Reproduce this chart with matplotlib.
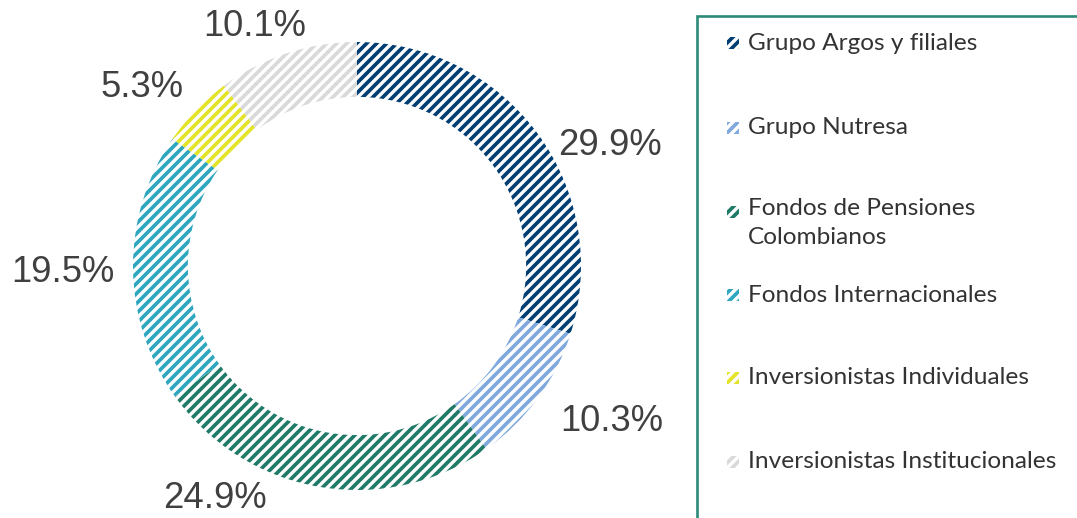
import matplotlib
matplotlib.use("Agg")
import matplotlib.pyplot as plt
from matplotlib.patches import Rectangle

categories = ["Grupo Argos y filiales", "Grupo Nutresa", "Fondos de Pensiones\nColombianos",
              "Fondos Internacionales", "Inversionistas Individuales", "Inversionistas Institucionales"]
values = [29.9, 10.3, 24.9, 19.5, 5.3, 10.1]
colors = ["#003D73", "#7FA8DC", "#1F7A67", "#2EA6BE", "#E3E327", "#D9D9D9"]

# label positions (layout) in axes data units
label_pos = [(1.129, 0.540), (1.138, -0.696), (-0.634, -1.036),
             (-1.3125, -0.027), (-0.960, 0.795), (-0.455, 1.067)]

DPI = 120
W, H = 1077, 518
plt.rcParams['hatch.linewidth'] = 2.2
fig = plt.figure(figsize=(W / DPI, H / DPI), dpi=DPI)

cx, cy, R = 357, 266, 224
ax = fig.add_axes([(cx - R) / W, (H - cy - R) / H, 2 * R / W, 2 * R / H])
wedges, texts, autotexts = ax.pie(values, startangle=90, counterclock=False, radius=1,
                                  colors=["white"] * len(values),
                                  autopct=lambda p: f"{p:.1f}%",
                                  wedgeprops=dict(width=0.245, linewidth=0))
for w, c in zip(wedges, colors):
    w.set_edgecolor(c)
    w.set_linewidth(0)
    w.set_hatch("////")
for t, v, pos in zip(autotexts, values, label_pos):
    t.set_text(f"{v:.1f}%")
    t.set_position(pos)
    t.set_fontsize(21.8)
    t.set_family("Liberation Sans")
    t.set_color("#404040")
    t.set_ha("center")
    t.set_va("center")
    t.set_clip_on(False)
ax.set_xlim(-1, 1)
ax.set_ylim(-1, 1)
ax.set_aspect("equal")
ax.axis("off")

# legend box
lx, ly = 697, 16
fig.patches.append(Rectangle((lx / W, -0.1), 1.2, (H - ly) / H + 0.1, transform=fig.transFigure,
                             facecolor="none", edgecolor="#2E8B7A", linewidth=1.6))
entry_y = [43, 128, 212, 295, 378, 462]
for cat, c, yy in zip(categories, colors, entry_y):
    s = 12
    fig.patches.append(Rectangle(((727) / W, (H - yy - s / 2) / H), s / W, s / H,
                                 transform=fig.transFigure, facecolor="white",
                                 edgecolor=c, linewidth=0, hatch="////"))
    if "\n" in cat:
        fig.text(748 / W, (H - yy + 14) / H, cat, fontsize=14.6, family="Lato", color="#333333",
                 ha="left", va="top", linespacing=1.45)
    else:
        fig.text(748 / W, (H - yy) / H, cat, fontsize=14.6, family="Lato", color="#333333",
                 ha="left", va="center")

fig.savefig("out.png", dpi=DPI)
